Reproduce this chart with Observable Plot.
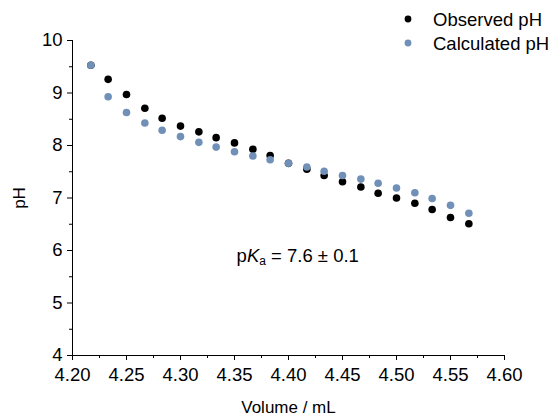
<!DOCTYPE html>
<html>
<head>
<meta charset="utf-8">
<script src="https://cdn.jsdelivr.net/npm/d3@7"></script>
<script src="https://cdn.jsdelivr.net/npm/@observablehq/plot@0.6"></script>
<style>
  html, body { margin: 0; padding: 0; background: #fff; }
  #chart svg { display: block; }
</style>
</head>
<body>
<div id="chart"></div>
<script>
// Titration of the weak acid: added titrant volume vs pH
const volume = [4.217, 4.233, 4.250, 4.267, 4.283, 4.300, 4.317, 4.333, 4.350, 4.367, 4.383,
                4.400, 4.417, 4.433, 4.450, 4.467, 4.483, 4.500, 4.517, 4.533, 4.550, 4.567];
const observedPH = [9.53, 9.26, 8.97, 8.71, 8.52, 8.37, 8.26, 8.15, 8.05, 7.93, 7.81,
                    7.66, 7.55, 7.43, 7.31, 7.21, 7.09, 7.00, 6.90, 6.78, 6.63, 6.51];
const calculatedPH = [9.53, 8.93, 8.63, 8.43, 8.29, 8.17, 8.06, 7.97, 7.88, 7.80, 7.73,
                      7.66, 7.59, 7.51, 7.43, 7.36, 7.28, 7.19, 7.10, 6.99, 6.86, 6.71];

const seriesNames = ["Observed pH", "Calculated pH"];
const seriesColors = ["#000000", "#7090b8"];

const xTicks = [4.20, 4.25, 4.30, 4.35, 4.40, 4.45, 4.50, 4.55, 4.60];
const xMinorTicks = [4.225, 4.275, 4.325, 4.375, 4.425, 4.475, 4.525, 4.575];
const yTicks = [4, 5, 6, 7, 8, 9, 10];
const yMinorTicks = [4.5, 5.5, 6.5, 7.5, 8.5, 9.5];

const pKa = 7.6, pKaError = 0.1;
const pKaLabelAt = {volume: 4.409, pH: 5.9};

const observed = volume.map((v, i) => ({volume: v, pH: observedPH[i]}));
const calculated = volume.map((v, i) => ({volume: v, pH: calculatedPH[i]}));

const font = "'Liberation Sans', Arial, Helvetica, sans-serif";

const chart = Plot.plot({
  width: 560,
  height: 417,
  marginLeft: 72,
  marginRight: 56,
  marginTop: 40,
  marginBottom: 62,
  style: {fontFamily: font, fontSize: "18.5px", color: "#000", background: "#fff"},
  x: {domain: [4.2, 4.6]},
  y: {domain: [4, 10]},
  marks: [
    Plot.axisX({ticks: xTicks, tickSize: 5, tickPadding: 7, tickFormat: d3.format(".2f"),
                label: "Volume / mL", labelAnchor: "center", labelArrow: "none", labelOffset: 57}),
    Plot.axisX({ticks: xMinorTicks, tickSize: 3, text: null, label: null}),
    Plot.axisY({ticks: yTicks, tickSize: 5, tickPadding: 5, tickFormat: d3.format("d"),
                label: "pH", labelAnchor: "center", labelArrow: "none", labelOffset: 60}),
    Plot.axisY({ticks: yMinorTicks, tickSize: 3, text: null, label: null}),
    Plot.ruleX([4.2], {y1: 4, y2: 10, stroke: "#000"}),
    Plot.ruleY([4], {x1: 4.2, x2: 4.6, stroke: "#000"}),
    Plot.dot(observed, {x: "volume", y: "pH", r: 3.8, fill: seriesColors[0], stroke: "none"}),
    Plot.dot(calculated, {x: "volume", y: "pH", r: 3.8, fill: seriesColors[1], stroke: "none"})
  ]
});

document.getElementById("chart").appendChild(chart);

const svg = d3.select(chart);
svg.style("overflow", "visible");

// axis titles a touch smaller than tick labels
svg.selectAll("[aria-label='x-axis label'] text, [aria-label='y-axis label'] text")
   .attr("font-size", "17px");

// pKa annotation with italic K and subscript a
const sx = chart.scale("x"), sy = chart.scale("y");
const note = svg.append("text")
  .attr("x", sx.apply(pKaLabelAt.volume))
  .attr("y", sy.apply(pKaLabelAt.pH))
  .attr("text-anchor", "middle")
  .attr("dominant-baseline", "central")
  .attr("font-family", font)
  .attr("font-size", "18.5px")
  .attr("fill", "#000");
note.append("tspan").text("p");
note.append("tspan").attr("font-style", "italic").text("K");
note.append("tspan").attr("font-size", "12px").attr("dy", "6").text("a");
note.append("tspan").attr("dy", "-6").text(` = ${pKa.toFixed(1)} \u00b1 ${pKaError.toFixed(1)}`);

// legend, top right
const legend = svg.append("g")
  .attr("font-family", font)
  .attr("font-size", "18.5px")
  .attr("text-anchor", "start");
seriesNames.forEach((name, i) => {
  const row = legend.append("g").attr("transform", `translate(408, ${19 + i * 24})`);
  row.append("circle").attr("r", 3.4).attr("fill", seriesColors[i]);
  row.append("text").attr("x", 25).attr("dominant-baseline", "central").attr("fill", "#000").text(name);
});
</script>
</body>
</html>
